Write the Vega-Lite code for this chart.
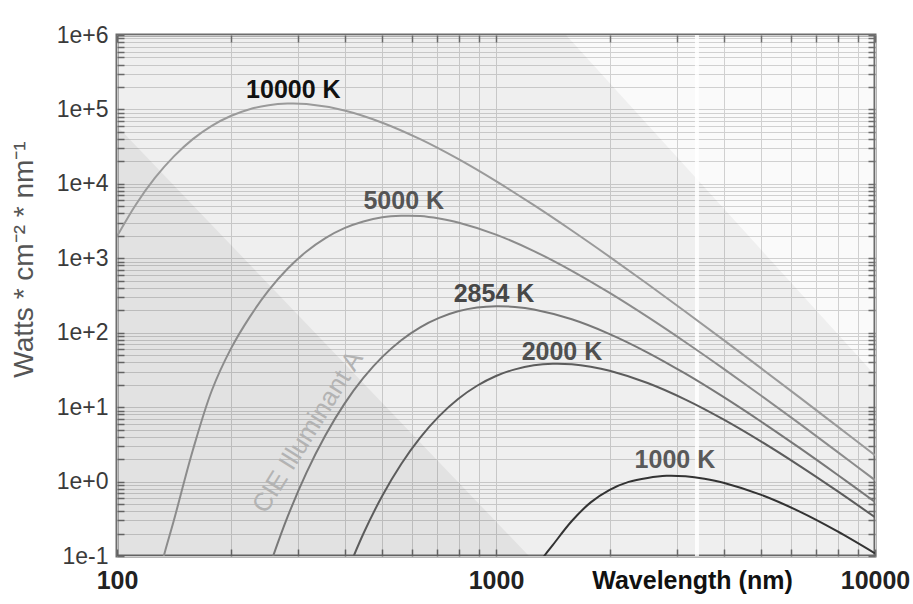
{
  "$schema": "https://vega.github.io/schema/vega-lite/v6.json",
  "width": 758,
  "height": 521,
  "autosize": {"type": "none"},
  "padding": {"left": 117, "top": 35, "right": 38, "bottom": 48},
  "background": "white",
  "config": {
    "font": "Liberation Sans",
    "view": {"fill": "#fafafa", "stroke": "#6d6d6d", "strokeWidth": 3}
  },
  "datasets": {
    "curves": [
      {"T": "10000 K", "wavelength": 100, "value": 1970},
      {"T": "10000 K", "wavelength": 112.2, "value": 5290},
      {"T": "10000 K", "wavelength": 125.9, "value": 12010},
      {"T": "10000 K", "wavelength": 141.3, "value": 23400},
      {"T": "10000 K", "wavelength": 158.5, "value": 39870},
      {"T": "10000 K", "wavelength": 177.8, "value": 60150},
      {"T": "10000 K", "wavelength": 199.5, "value": 81560},
      {"T": "10000 K", "wavelength": 223.9, "value": 100600},
      {"T": "10000 K", "wavelength": 251.2, "value": 114000},
      {"T": "10000 K", "wavelength": 281.8, "value": 119800},
      {"T": "10000 K", "wavelength": 316.2, "value": 117930},
      {"T": "10000 K", "wavelength": 398.1, "value": 96670},
      {"T": "10000 K", "wavelength": 501.2, "value": 66290},
      {"T": "10000 K", "wavelength": 631, "value": 39790},
      {"T": "10000 K", "wavelength": 794.3, "value": 21580},
      {"T": "10000 K", "wavelength": 1000, "value": 10860},
      {"T": "10000 K", "wavelength": 1259, "value": 5169},
      {"T": "10000 K", "wavelength": 1585, "value": 2360},
      {"T": "10000 K", "wavelength": 1995, "value": 1045},
      {"T": "10000 K", "wavelength": 2512, "value": 451.5},
      {"T": "10000 K", "wavelength": 3162, "value": 191.6},
      {"T": "10000 K", "wavelength": 3981, "value": 80.2},
      {"T": "10000 K", "wavelength": 5012, "value": 33.2},
      {"T": "10000 K", "wavelength": 6310, "value": 13.63},
      {"T": "10000 K", "wavelength": 7943, "value": 5.56},
      {"T": "10000 K", "wavelength": 10000, "value": 2.257},

      {"T": "5000 K", "wavelength": 125.9, "value": 0.0316},
      {"T": "5000 K", "wavelength": 132.9, "value": 0.1},
      {"T": "5000 K", "wavelength": 141.3, "value": 0.302},
      {"T": "5000 K", "wavelength": 158.5, "value": 2.63},
      {"T": "5000 K", "wavelength": 177.8, "value": 16.6},
      {"T": "5000 K", "wavelength": 199.5, "value": 60.2},
      {"T": "5000 K", "wavelength": 223.9, "value": 162},
      {"T": "5000 K", "wavelength": 251.2, "value": 369.7},
      {"T": "5000 K", "wavelength": 281.8, "value": 722.5},
      {"T": "5000 K", "wavelength": 316.2, "value": 1233},
      {"T": "5000 K", "wavelength": 354.8, "value": 1866},
      {"T": "5000 K", "wavelength": 398.1, "value": 2537},
      {"T": "5000 K", "wavelength": 446.7, "value": 3120},
      {"T": "5000 K", "wavelength": 501.2, "value": 3553},
      {"T": "5000 K", "wavelength": 562.3, "value": 3720},
      {"T": "5000 K", "wavelength": 631, "value": 3691},
      {"T": "5000 K", "wavelength": 707.9, "value": 3420},
      {"T": "5000 K", "wavelength": 794.3, "value": 3032},
      {"T": "5000 K", "wavelength": 1000, "value": 2082},
      {"T": "5000 K", "wavelength": 1259, "value": 1250},
      {"T": "5000 K", "wavelength": 1585, "value": 678.6},
      {"T": "5000 K", "wavelength": 1995, "value": 342},
      {"T": "5000 K", "wavelength": 2512, "value": 162.8},
      {"T": "5000 K", "wavelength": 3162, "value": 74.4},
      {"T": "5000 K", "wavelength": 3981, "value": 32.9},
      {"T": "5000 K", "wavelength": 5012, "value": 14.23},
      {"T": "5000 K", "wavelength": 6310, "value": 6.044},
      {"T": "5000 K", "wavelength": 7943, "value": 2.529},
      {"T": "5000 K", "wavelength": 10000, "value": 1.047},

      {"T": "2854 K", "wavelength": 251.2, "value": 0.0671},
      {"T": "2854 K", "wavelength": 281.8, "value": 0.3347},
      {"T": "2854 K", "wavelength": 316.2, "value": 1.317},
      {"T": "2854 K", "wavelength": 354.8, "value": 4.19},
      {"T": "2854 K", "wavelength": 398.1, "value": 11.05},
      {"T": "2854 K", "wavelength": 446.7, "value": 24.64},
      {"T": "2854 K", "wavelength": 501.2, "value": 47.3},
      {"T": "2854 K", "wavelength": 562.3, "value": 79.4},
      {"T": "2854 K", "wavelength": 631, "value": 118.3},
      {"T": "2854 K", "wavelength": 707.9, "value": 158},
      {"T": "2854 K", "wavelength": 794.3, "value": 193.9},
      {"T": "2854 K", "wavelength": 891.3, "value": 218},
      {"T": "2854 K", "wavelength": 1000, "value": 227.2},
      {"T": "2854 K", "wavelength": 1122, "value": 222},
      {"T": "2854 K", "wavelength": 1259, "value": 205.0},
      {"T": "2854 K", "wavelength": 1585, "value": 151.4},
      {"T": "2854 K", "wavelength": 1995, "value": 95.9},
      {"T": "2854 K", "wavelength": 2512, "value": 54.2},
      {"T": "2854 K", "wavelength": 3162, "value": 28.13},
      {"T": "2854 K", "wavelength": 3981, "value": 13.7},
      {"T": "2854 K", "wavelength": 5012, "value": 6.366},
      {"T": "2854 K", "wavelength": 6310, "value": 2.854},
      {"T": "2854 K", "wavelength": 7943, "value": 1.245},
      {"T": "2854 K", "wavelength": 10000, "value": 0.5326},

      {"T": "2000 K", "wavelength": 398.1, "value": 0.0496},
      {"T": "2000 K", "wavelength": 446.7, "value": 0.199},
      {"T": "2000 K", "wavelength": 501.2, "value": 0.6446},
      {"T": "2000 K", "wavelength": 562.3, "value": 1.724},
      {"T": "2000 K", "wavelength": 631, "value": 3.901},
      {"T": "2000 K", "wavelength": 707.9, "value": 7.58},
      {"T": "2000 K", "wavelength": 794.3, "value": 12.88},
      {"T": "2000 K", "wavelength": 891.3, "value": 19.39},
      {"T": "2000 K", "wavelength": 1000, "value": 26.24},
      {"T": "2000 K", "wavelength": 1122, "value": 32.2},
      {"T": "2000 K", "wavelength": 1259, "value": 36.51},
      {"T": "2000 K", "wavelength": 1413, "value": 38.3},
      {"T": "2000 K", "wavelength": 1585, "value": 37.69},
      {"T": "2000 K", "wavelength": 1778, "value": 34.9},
      {"T": "2000 K", "wavelength": 1995, "value": 30.84},
      {"T": "2000 K", "wavelength": 2512, "value": 21.12},
      {"T": "2000 K", "wavelength": 3162, "value": 12.65},
      {"T": "2000 K", "wavelength": 3981, "value": 6.857},
      {"T": "2000 K", "wavelength": 5012, "value": 3.449},
      {"T": "2000 K", "wavelength": 6310, "value": 1.641},
      {"T": "2000 K", "wavelength": 7943, "value": 0.7495},
      {"T": "2000 K", "wavelength": 10000, "value": 0.3315},

      {"T": "1000 K", "wavelength": 1259, "value": 0.066},
      {"T": "1000 K", "wavelength": 1340, "value": 0.1},
      {"T": "1000 K", "wavelength": 1413, "value": 0.141},
      {"T": "1000 K", "wavelength": 1585, "value": 0.295},
      {"T": "1000 K", "wavelength": 1778, "value": 0.525},
      {"T": "1000 K", "wavelength": 1995, "value": 0.776},
      {"T": "1000 K", "wavelength": 2239, "value": 0.99},
      {"T": "1000 K", "wavelength": 2512, "value": 1.12},
      {"T": "1000 K", "wavelength": 2818, "value": 1.195},
      {"T": "1000 K", "wavelength": 3162, "value": 1.175},
      {"T": "1000 K", "wavelength": 3548, "value": 1.09},
      {"T": "1000 K", "wavelength": 3981, "value": 0.9667},
      {"T": "1000 K", "wavelength": 5012, "value": 0.6629},
      {"T": "1000 K", "wavelength": 6310, "value": 0.3979},
      {"T": "1000 K", "wavelength": 7943, "value": 0.2158},
      {"T": "1000 K", "wavelength": 10000, "value": 0.1086}
    ],
    "labels": [
      {"T": "10000 K", "wavelength": 292, "value": 180000},
      {"T": "5000 K", "wavelength": 571, "value": 5830},
      {"T": "2854 K", "wavelength": 988, "value": 330},
      {"T": "2000 K", "wavelength": 1493, "value": 55},
      {"T": "1000 K", "wavelength": 2965, "value": 1.95}
    ],
    "notes": [
      {"note": "CIE Illuminant A", "wavelength": 319, "value": 4.63}
    ],
    "upperShade": [
      {"wavelength": 100, "value": 1000000},
      {"wavelength": 1531, "value": 1000000},
      {"wavelength": 10000, "value": 27}
    ],
    "lowerShade": [
      {"wavelength": 100, "value": 60000},
      {"wavelength": 1222, "value": 0.1}
    ]
  },
  "layer": [
    {
      "data": {"name": "upperShade"},
      "mark": {"type": "area", "color": "#000000", "fillOpacity": 0.045, "clip": true},
      "encoding": {
        "x": {"field": "wavelength", "type": "quantitative", "scale": {"type": "log", "domain": [100, 10000], "nice": false}, "axis": null},
        "y": {"field": "value", "type": "quantitative", "scale": {"type": "log", "domain": [0.1, 1000000], "nice": false}, "axis": null},
        "y2": {"datum": 0.1}
      }
    },
    {
      "data": {"name": "lowerShade"},
      "mark": {"type": "area", "color": "#000000", "fillOpacity": 0.05, "clip": true},
      "encoding": {
        "x": {"field": "wavelength", "type": "quantitative", "scale": {"type": "log", "domain": [100, 10000], "nice": false}, "axis": null},
        "y": {"field": "value", "type": "quantitative", "scale": {"type": "log", "domain": [0.1, 1000000], "nice": false}, "axis": null},
        "y2": {"datum": 0.1}
      }
    },
    {
      "data": {"values": [{}]},
      "mark": {"type": "rule", "color": "#ffffff", "strokeWidth": 4, "opacity": 0.85},
      "encoding": {
        "x": {"datum": 3390, "type": "quantitative", "scale": {"type": "log", "domain": [100, 10000], "nice": false}, "axis": null}
      }
    },
    {
      "data": {"name": "curves"},
      "mark": {"type": "line", "strokeWidth": 2, "interpolate": "catmull-rom", "clip": true},
      "encoding": {
        "x": {
          "field": "wavelength", "type": "quantitative",
          "scale": {"type": "log", "domain": [100, 10000], "nice": false},
          "axis": {
            "orient": "bottom",
            "values": [100, 200, 300, 400, 500, 600, 700, 800, 900, 1000, 2000, 3000, 4000, 5000, 6000, 7000, 8000, 9000, 10000],
            "labelExpr": "indexof([100, 1000, 10000], datum.value) >= 0 ? '' + datum.value : ''",
            "labelOverlap": false, "labelFlush": false, "labelBound": false,
            "labelFont": "Liberation Sans", "labelFontSize": 25, "labelFontWeight": "bold", "labelColor": "#222222",
            "labelPadding": 19,
            "domain": false, "ticks": true, "tickSize": -7, "tickColor": "#6d6d6d", "tickWidth": 1.5,
            "grid": true, "gridColor": "#d0d0d0", "gridWidth": 1,
            "title": "Wavelength (nm)", "titleFont": "Liberation Sans", "titleFontSize": 25, "titleFontWeight": "bold", "titleColor": "#111111",
            "titleX": 575, "titleY": 24, "titleAlign": "center", "titleBaseline": "middle"
          }
        },
        "y": {
          "field": "value", "type": "quantitative",
          "scale": {"type": "log", "domain": [0.1, 1000000], "nice": false},
          "axis": {
            "orient": "left",
            "values": [0.1, 0.2, 0.3, 0.4, 0.5, 0.6, 0.7, 0.8, 0.9, 1, 2, 3, 4, 5, 6, 7, 8, 9, 10, 20, 30, 40, 50, 60, 70, 80, 90, 100, 200, 300, 400, 500, 600, 700, 800, 900, 1000, 2000, 3000, 4000, 5000, 6000, 7000, 8000, 9000, 10000, 20000, 30000, 40000, 50000, 60000, 70000, 80000, 90000, 100000, 200000, 300000, 400000, 500000, 600000, 700000, 800000, 900000, 1000000],
            "labelExpr": "indexof([0.1, 1, 10, 100, 1000, 10000, 100000, 1000000], datum.value) >= 0 ? format(datum.value, '.0e') : ''",
            "labelOverlap": false, "labelFlush": false, "labelBound": false,
            "labelFont": "Liberation Sans", "labelFontSize": 23, "labelColor": "#3a3a3a",
            "labelPadding": 16,
            "domain": false, "ticks": true, "tickSize": -7, "tickColor": "#6d6d6d", "tickWidth": 1.5,
            "grid": true, "gridColor": "#d0d0d0", "gridWidth": 1,
            "title": "Watts * cm⁻² * nm⁻¹", "titleFont": "Liberation Sans", "titleFontSize": 28, "titleFontWeight": "normal", "titleColor": "#555555",
            "titleX": -93, "titleY": 224, "titleAngle": -90, "titleAlign": "center", "titleBaseline": "middle"
          }
        },
        "stroke": {
          "field": "T", "type": "nominal",
          "scale": {"domain": ["10000 K", "5000 K", "2854 K", "2000 K", "1000 K"], "range": ["#9a9a9a", "#8c8c8c", "#787878", "#5c5c5c", "#333333"]},
          "legend": null
        }
      }
    },
    {
      "data": {"name": "labels"},
      "mark": {"type": "text", "fontSize": 25, "fontWeight": "bold", "align": "center", "baseline": "middle", "font": "Liberation Sans"},
      "encoding": {
        "x": {
          "field": "wavelength", "type": "quantitative",
          "scale": {"type": "log", "domain": [100, 10000], "nice": false},
          "axis": {
            "orient": "top",
            "values": [100, 200, 300, 400, 500, 600, 700, 800, 900, 1000, 2000, 3000, 4000, 5000, 6000, 7000, 8000, 9000, 10000],
            "labels": false, "domain": false, "grid": false,
            "ticks": true, "tickSize": -7, "tickColor": "#6d6d6d", "tickWidth": 1.5, "title": null
          }
        },
        "y": {
          "field": "value", "type": "quantitative",
          "scale": {"type": "log", "domain": [0.1, 1000000], "nice": false},
          "axis": {
            "orient": "right",
            "values": [0.1, 0.2, 0.3, 0.4, 0.5, 0.6, 0.7, 0.8, 0.9, 1, 2, 3, 4, 5, 6, 7, 8, 9, 10, 20, 30, 40, 50, 60, 70, 80, 90, 100, 200, 300, 400, 500, 600, 700, 800, 900, 1000, 2000, 3000, 4000, 5000, 6000, 7000, 8000, 9000, 10000, 20000, 30000, 40000, 50000, 60000, 70000, 80000, 90000, 100000, 200000, 300000, 400000, 500000, 600000, 700000, 800000, 900000, 1000000],
            "labels": false, "domain": false, "grid": false,
            "ticks": true, "tickSize": -7, "tickColor": "#6d6d6d", "tickWidth": 1.5, "title": null
          }
        },
        "text": {"field": "T", "type": "nominal"},
        "fill": {
          "field": "T", "type": "nominal",
          "scale": {"domain": ["10000 K", "5000 K", "2854 K", "2000 K", "1000 K"], "range": ["#111111", "#555555", "#474747", "#4f4f4f", "#5a5a5a"]},
          "legend": null
        }
      }
    },
    {
      "data": {"name": "notes"},
      "mark": {"type": "text", "fontSize": 26, "align": "center", "baseline": "middle", "angle": -58, "color": "#b3b3b3", "font": "Liberation Sans"},
      "encoding": {
        "x": {"field": "wavelength", "type": "quantitative", "scale": {"type": "log", "domain": [100, 10000], "nice": false}, "axis": null},
        "y": {"field": "value", "type": "quantitative", "scale": {"type": "log", "domain": [0.1, 1000000], "nice": false}, "axis": null},
        "text": {"field": "note", "type": "nominal"}
      }
    }
  ]
}
